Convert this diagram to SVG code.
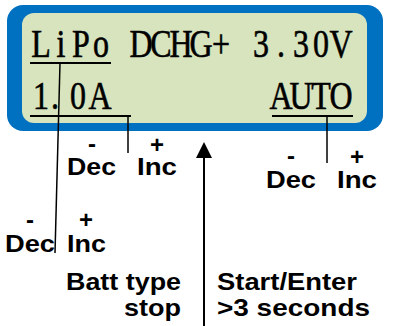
<svg xmlns="http://www.w3.org/2000/svg" width="393" height="326" viewBox="0 0 393 326">
<style>
.lcd{font-family:"Liberation Serif","Times New Roman",serif;font-size:39px;fill:#000;stroke:#000;stroke-width:0.6;text-anchor:middle}
.lbl{font-family:"Liberation Sans",Arial,sans-serif;font-weight:bold;font-size:24px;fill:#000}
.sym{font-family:"Liberation Sans",Arial,sans-serif;font-weight:bold;font-size:24px;fill:#000;text-anchor:middle}
.ul{stroke:#000;stroke-width:2}
.ln{stroke:#000;stroke-width:1.5;fill:none}
</style>
<g id="display">
<rect x="7" y="5" width="376" height="126" rx="16" fill="#0070c0"/>
<rect x="22" y="13" width="345" height="110" rx="12" fill="#d7e4bd"/>
<g transform="translate(41,0) scale(0.82,1)">
<text class="lcd" y="57" x="0 24.39 48.78 73.17 97.56 121.95 146.34 170.73 195.12 219.51 243.9 268.29 292.68 317.07 341.46 365.85">LiPo DCHG+ 3.30V</text>
<text class="lcd" y="109" x="0 17.07 45.12 71.95">1.0A</text>
<text class="lcd" y="109" x="292.68 317.07 341.46 365.85">AUTO</text>
</g>
<line class="ul" x1="30" y1="63" x2="111" y2="63"/>
<line class="ul" x1="30" y1="116" x2="131" y2="116"/>
<line class="ul" x1="272" y1="116" x2="353" y2="116"/>
</g>
<g id="connectors">
<line class="ln" x1="60" y1="63" x2="55" y2="253"/>
<line class="ln" x1="128" y1="116" x2="128" y2="153"/>
<line class="ln" x1="327" y1="116" x2="327" y2="163"/>
<line x1="204" y1="326" x2="204" y2="156" stroke="#000" stroke-width="2"/>
<polygon points="204,142 196,158 212,158" fill="#000"/>
</g>
<g id="current-adjust">
<text class="sym" x="92" y="152">-</text>
<text class="sym" x="157" y="153">+</text>
<text class="lbl" x="67" y="175" textLength="49" lengthAdjust="spacingAndGlyphs">Dec</text>
<text class="lbl" x="137" y="175" textLength="40" lengthAdjust="spacingAndGlyphs">Inc</text>
</g>
<g id="mode-adjust">
<text class="sym" x="291" y="164">-</text>
<text class="sym" x="357" y="165">+</text>
<text class="lbl" x="266" y="188" textLength="50" lengthAdjust="spacingAndGlyphs">Dec</text>
<text class="lbl" x="337" y="188" textLength="40" lengthAdjust="spacingAndGlyphs">Inc</text>
</g>
<g id="type-adjust">
<text class="sym" x="30" y="228">-</text>
<text class="sym" x="86" y="228">+</text>
<text class="lbl" x="5" y="252" textLength="50" lengthAdjust="spacingAndGlyphs">Dec</text>
<text class="lbl" x="67" y="252" textLength="39" lengthAdjust="spacingAndGlyphs">Inc</text>
</g>
<g id="batt-type-stop">
<text class="lbl" x="66" y="290" textLength="115" lengthAdjust="spacingAndGlyphs">Batt type</text>
<text class="lbl" x="124" y="316" textLength="57" lengthAdjust="spacingAndGlyphs">stop</text>
</g>
<g id="start-enter">
<text class="lbl" x="217" y="290" textLength="140" lengthAdjust="spacingAndGlyphs">Start/Enter</text>
<text class="lbl" x="217" y="316" textLength="153" lengthAdjust="spacingAndGlyphs">&gt;3 seconds</text>
</g>
</svg>
